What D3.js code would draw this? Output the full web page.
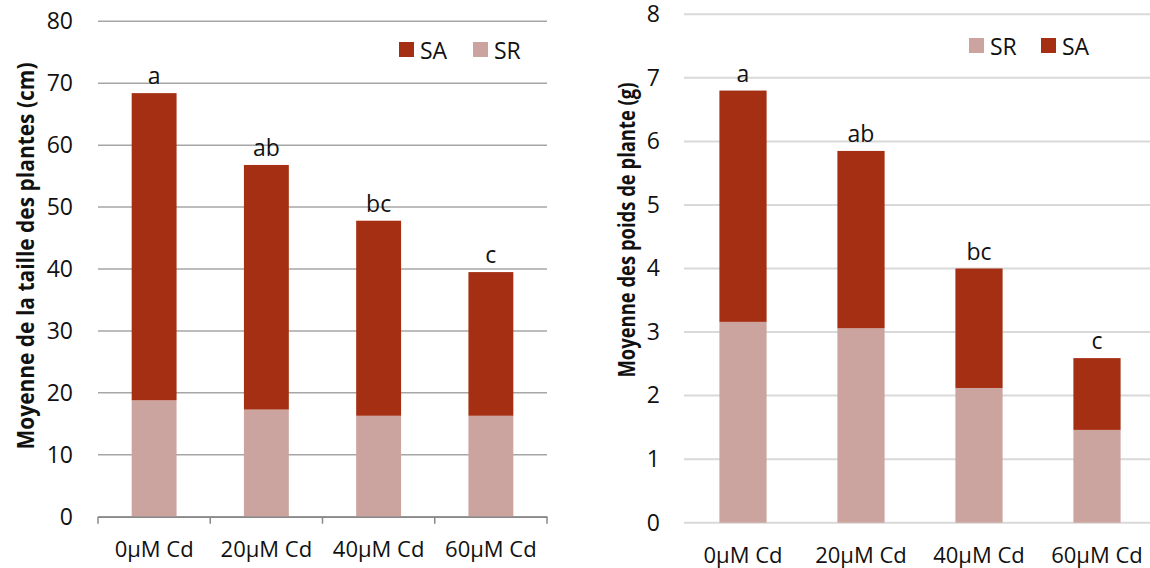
<!DOCTYPE html>
<html>
<head>
<meta charset="utf-8">
<script src="https://cdn.jsdelivr.net/npm/d3@7"></script>
<style>
  html, body { margin: 0; padding: 0; background: #fff; }
  svg { display: block; font-family: "Open Sans", sans-serif; }
</style>
</head>
<body>
<svg id="chart" width="1150" height="568"></svg>
<script>
// ---------- data ----------
const categories = ["0µM Cd", "20µM Cd", "40µM Cd", "60µM Cd"];
const letters = ["a", "ab", "bc", "c"];

// Left chart: plant height (cm)
const heightSR = [18.8, 17.3, 16.3, 16.3];
const heightTotal = [68.4, 56.8, 47.8, 39.5];
const heightSA = heightTotal.map((t, i) => +(t - heightSR[i]).toFixed(1));
const heightTicks = [0, 10, 20, 30, 40, 50, 60, 70, 80];

// Right chart: plant weight (g)
const weightSR = [3.16, 3.06, 2.12, 1.46];
const weightTotal = [6.80, 5.85, 4.00, 2.59];
const weightSA = weightTotal.map((t, i) => +(t - weightSR[i]).toFixed(2));
const weightTicks = [0, 1, 2, 3, 4, 5, 6, 7, 8];

const colSA = "#a52f13";
const colSR = "#cca49f";

const svg = d3.select("#chart");

function drawChart(opt) {
  const g = svg.append("g");
  const x = d3.scaleBand().domain(categories).range([opt.x0, opt.x1]).paddingInner(0).paddingOuter(0);
  const y = d3.scaleLinear().domain([0, opt.max]).range([opt.yBottom, opt.yTop]);
  const barW = x.bandwidth() * opt.barRatio;

  // gridlines
  g.append("g").selectAll("line").data(opt.ticks).join("line")
    .attr("x1", opt.x0).attr("x2", opt.gridEnd)
    .attr("y1", d => y(d)).attr("y2", d => y(d))
    .attr("stroke", opt.gridColor).attr("stroke-width", opt.gridWidth);

  // y tick labels
  const yAxis = d3.axisLeft(y).tickValues(opt.ticks).tickSize(0).tickPadding(opt.tickPad);
  const ya = g.append("g").attr("transform", `translate(${opt.x0},0)`).call(yAxis);
  ya.select(".domain").remove();
  ya.selectAll("text").attr("font-size", 23).attr("fill", "#111").attr("font-family", "Open Sans");

  // bars
  const stackData = categories.map((c, i) => ({ cat: c, SR: opt.sr[i], SA: opt.sa[i] }));
  const stack = d3.stack().keys(["SR", "SA"])(stackData);
  const colors = { SR: colSR, SA: colSA };
  g.append("g").selectAll("g").data(stack).join("g")
    .attr("fill", d => colors[d.key])
    .selectAll("rect").data(d => d).join("rect")
    .attr("x", d => x(d.data.cat) + (x.bandwidth() - barW) / 2)
    .attr("width", barW)
    .attr("y", d => y(d[1]))
    .attr("height", d => y(d[0]) - y(d[1]));

  // letters
  g.append("g").selectAll("text").data(categories).join("text")
    .attr("x", d => x(d) + x.bandwidth() / 2)
    .attr("y", (d, i) => y(opt.total[i]) - 9)
    .attr("text-anchor", "middle")
    .attr("font-size", 23).attr("fill", "#111")
    .text((d, i) => letters[i]);

  // x axis
  if (opt.axisLine) {
    const xAxis = d3.axisBottom(x).tickSize(0).tickFormat("");
    const xa = g.append("g").attr("transform", `translate(0,${opt.yBottom})`).call(xAxis);
    xa.select(".domain").attr("stroke", "#888").attr("stroke-width", 1.5);
    xa.selectAll(".tick").remove();
    g.append("g").selectAll("line").data(d3.range(categories.length + 1)).join("line")
      .attr("x1", i => opt.x0 + i * x.bandwidth()).attr("x2", i => opt.x0 + i * x.bandwidth())
      .attr("y1", opt.yBottom).attr("y2", opt.yBottom + 7)
      .attr("stroke", "#888").attr("stroke-width", 1.5);
  }
  g.append("g").selectAll("text").data(categories).join("text")
    .attr("x", d => x(d) + x.bandwidth() / 2)
    .attr("y", opt.xLabelY)
    .attr("text-anchor", "middle").attr("dominant-baseline", "central")
    .attr("font-size", 22).attr("fill", "#111")
    .text(d => d);

  // y title
  g.append("text")
    .attr("transform", `translate(${opt.titleX},${opt.titleY}) rotate(-90)`)
    .attr("text-anchor", "middle").attr("dominant-baseline", "central")
    .attr("font-size", 23).attr("font-weight", "bold").attr("fill", "#111")
    .attr("textLength", opt.titleLen).attr("lengthAdjust", "spacingAndGlyphs")
    .text(opt.title);

  // legend
  const lg = g.append("g");
  opt.legend.forEach(l => {
    lg.append("rect").attr("x", l.x).attr("y", opt.legY - 7.5).attr("width", 15).attr("height", 15)
      .attr("fill", colors[l.key]);
    lg.append("text").attr("x", l.x + 21).attr("y", opt.legY)
      .attr("dominant-baseline", "central").attr("font-size", 23).attr("fill", "#111")
      .text(l.key);
  });
}

drawChart({
  x0: 98, x1: 547, gridEnd: 547, yBottom: 516.7, yTop: 21.3, max: 80,
  ticks: heightTicks, sr: heightSR, sa: heightSA, total: heightTotal,
  barRatio: 0.40, gridColor: "#a6a6a6", gridWidth: 1.5, tickPad: 25,
  axisLine: true, xLabelY: 548,
  title: "Moyenne de la taille des plantes (cm)", titleX: 25, titleY: 256, titleLen: 387,
  legY: 49.5, legend: [{ key: "SA", x: 399 }, { key: "SR", x: 473 }]
});

drawChart({
  x0: 684, x1: 1156, gridEnd: 1150, yBottom: 522.7, yTop: 14.3, max: 8,
  ticks: weightTicks, sr: weightSR, sa: weightSA, total: weightTotal,
  barRatio: 0.40, gridColor: "#d9d9d9", gridWidth: 2, tickPad: 24,
  axisLine: false, xLabelY: 554,
  title: "Moyenne des poids de plante (g)", titleX: 626, titleY: 230, titleLen: 295,
  legY: 45.5, legend: [{ key: "SR", x: 969 }, { key: "SA", x: 1041 }]
});
</script>
</body>
</html>
